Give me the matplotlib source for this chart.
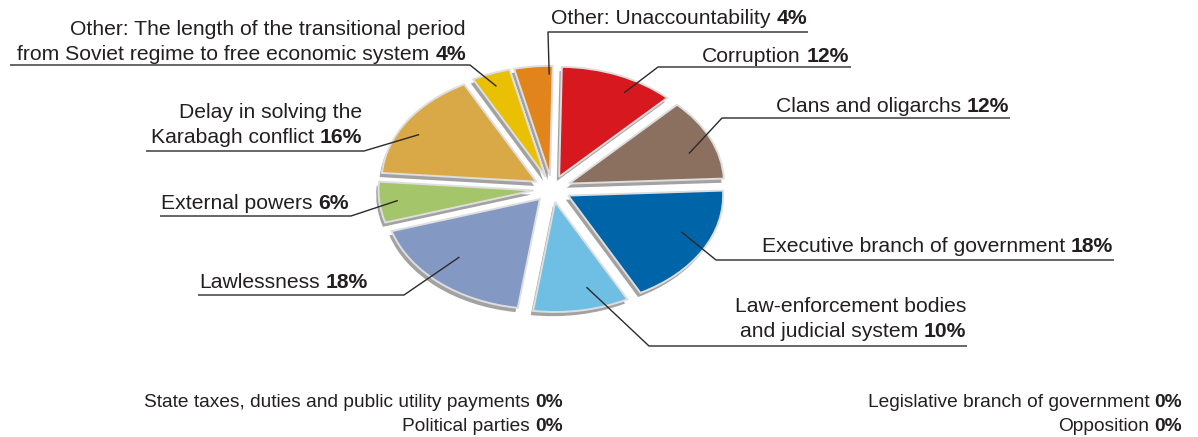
import matplotlib
matplotlib.use("Agg")
import matplotlib.pyplot as plt
import numpy as np

# ---------------- data ----------------
categories = [
    "Corruption",
    "Clans and oligarchs",
    "Executive branch of government",
    "Law-enforcement bodies\nand judicial system",
    "Lawlessness",
    "External powers",
    "Delay in solving the\nKarabagh conflict",
    "Other: The length of the transitional period\nfrom Soviet regime to free economic system",
    "Other: Unaccountability",
]
values = [12, 12, 18, 10, 18, 6, 16, 4, 4]
colors = ["#d7191f", "#8b7060", "#0065a8", "#6ebfe3", "#8398c3",
          "#a4c56a", "#d9a847", "#e9c004", "#e0841b"]

zero_left_labels = ["State taxes, duties and public utility payments", "Political parties"]
zero_left_values = [0, 0]
zero_right_labels = ["Legislative branch of government", "Opposition"]
zero_right_values = [0, 0]

# ---------------- layout (pixels / pie units) ----------------
W, H = 1198, 437
label_layout = [
    dict(xr=849, base=[62], uy=67, ux=(658, 851), side="R", ang=62, r=0.99),
    dict(xr=1009, base=[112], uy=118, ux=(722, 1010), side="R", ang=20, r=0.94),
    dict(xr=1113, base=[252], uy=260, ux=(716, 1114), side="R", ang=-25, r=0.92),
    dict(xr=966, base=[312, 337], uy=346, ux=(649, 967), side="R", ang=-76, r=0.92),
    dict(xr=368, base=[288], uy=295, ux=(198, 404), side="L", ang=-134, r=0.86),
    dict(xr=349, base=[209], uy=216, ux=(160, 351), side="L", ang=-174, r=1.0),
    dict(xr=362, base=[118, 143], uy=151, ux=(146, 364), side="L", ang=150, r=0.99),
    dict(xr=466, base=[35, 60], uy=65, ux=(10, 470), side="L", ang=111, r=1.0),
    dict(xr=807, base=[24], uy=32, ux=(548, 808), side="R", ang=91, r=1.04),
]

FONT = "Liberation Sans"
FS = 15.2
FS_SMALL = 13.8
TXT = "#231f20"
LINE = "#2a2a2a"

fig = plt.figure(figsize=(W / 100, H / 100), dpi=100)
fig.patch.set_facecolor("white")

cx, cy, rx, ry = 552, 189, 155, 110
lim = 1.5
axp = fig.add_axes([(cx - lim * rx) / W, (H - cy - lim * ry) / H,
                    2 * lim * rx / W, 2 * lim * ry / H])
explode = [0.12] * len(values)

axp.pie(values, colors=["#a2a2a2"] * len(values), startangle=89, counterclock=False,
        explode=explode, center=(-0.015, -0.038), wedgeprops=dict(linewidth=0))
axp.pie(values, colors=colors, startangle=89, counterclock=False,
        explode=explode, center=(0, 0),
        wedgeprops=dict(edgecolor="#dedede", linewidth=1.4))
axp.set_aspect("auto")
axp.set_xlim(-lim, lim)
axp.set_ylim(-lim, lim)
axp.axis("off")

ov = fig.add_axes([0, 0, 1, 1], zorder=5)
ov.set_xlim(0, W)
ov.set_ylim(H, 0)
ov.axis("off")
ov.patch.set_alpha(0)

renderer = fig.canvas.get_renderer()


def to_px(x, y):
    disp = axp.transData.transform((x, y))
    return ov.transData.inverted().transform(disp)


def label(xr, yb, text, pct, fs):
    tb = ov.text(xr, yb, f"{pct}%", ha="right", va="baseline", fontsize=fs,
                 fontweight="bold", family=FONT, color=TXT)
    wb = tb.get_window_extent(renderer).width
    gap = 0.27 * fs * 100 / 72
    ov.text(xr - wb - gap, yb, text, ha="right", va="baseline", fontsize=fs,
            family=FONT, color=TXT)


for cat, val, lay in zip(categories, values, label_layout):
    lines = cat.split("\n")
    for i, ln in enumerate(lines):
        if i == len(lines) - 1:
            label(lay["xr"], lay["base"][i], ln, val, FS)
        else:
            ov.text(lay["xr"], lay["base"][i], ln, ha="right", va="baseline",
                    fontsize=FS, family=FONT, color=TXT)
    a = np.deg2rad(lay["ang"])
    axx, axy = to_px(lay["r"] * np.cos(a), lay["r"] * np.sin(a))
    x0, x1 = lay["ux"]
    uy = lay["uy"]
    if lay["side"] == "R":
        xs, ys = [axx, x0, x1], [axy, uy, uy]
    else:
        xs, ys = [axx, x1, x0], [axy, uy, uy]
    ov.plot(xs, ys, color=LINE, lw=1.0, solid_capstyle="butt")

for i, (t, v) in enumerate(zip(zero_left_labels, zero_left_values)):
    label(563, 407 + 24 * i, t, v, FS_SMALL)
for i, (t, v) in enumerate(zip(zero_right_labels, zero_right_values)):
    label(1182, 407 + 24 * i, t, v, FS_SMALL)

fig.savefig("out.png", dpi=100, facecolor="white")
